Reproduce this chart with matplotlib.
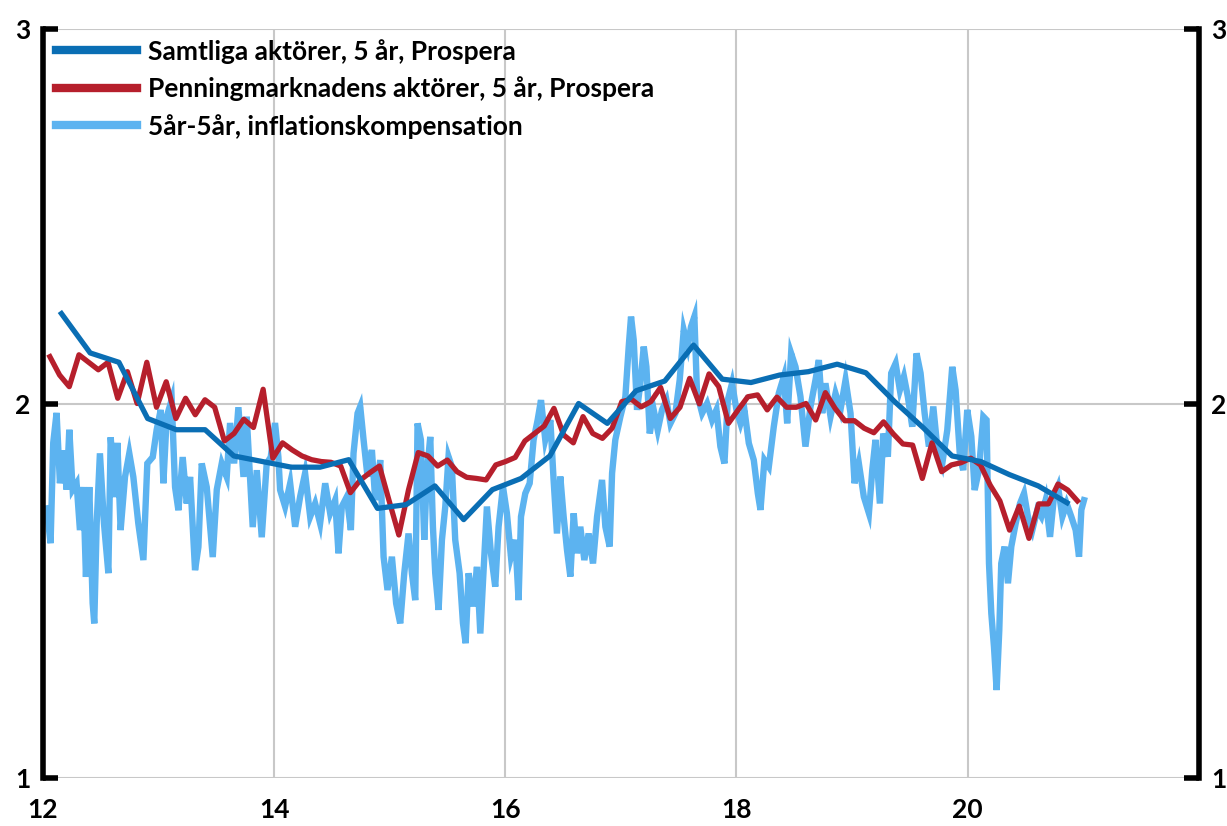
import numpy as np
import matplotlib
matplotlib.use("Agg")
import matplotlib.pyplot as plt

plt.rcParams['font.family'] = ['Lato', 'DejaVu Sans']
plt.rcParams['font.weight'] = 'bold'

# Samtliga aktörer, 5 år (kvartal)
samtliga_y = [2.24, 2.135, 2.11, 1.96, 1.93, 1.93, 1.86, 1.845, 1.83, 1.83,
              1.85, 1.72, 1.73, 1.78, 1.69, 1.77, 1.80, 1.86, 2.00, 1.947,
              2.034, 2.06, 2.156, 2.065, 2.056, 2.076, 2.085, 2.105, 2.082, 2.005,
              1.935, 1.86, 1.845, 1.81, 1.78, 1.735]
samtliga_x = np.linspace(12.16, 20.86, len(samtliga_y))

# Penningmarknadens aktörer, 5 år (månad)
penning_y = [2.125, 2.076, 2.045, 2.13, 2.11, 2.09, 2.11, 2.014, 2.085, 2.0,
             2.11, 1.99, 2.058, 1.96, 2.014, 1.97, 2.01, 1.99, 1.90, 1.92,
             1.958, 1.936, 2.038, 1.854, 1.895, 1.876, 1.86, 1.85, 1.845, 1.843,
             1.833, 1.762, 1.795, 1.815, 1.833, 1.74, 1.649, 1.77, 1.869, 1.86,
             1.833, 1.849, 1.818, 1.803, 1.80, 1.796, 1.836, 1.845, 1.856, 1.90,
             1.92, 1.94, 1.987, 1.916, 1.895, 1.965, 1.92, 1.907, 1.934, 2.005,
             2.011, 1.991, 2.005, 2.043, 1.96, 1.99, 2.067, 1.999, 2.079, 2.045,
             1.947, 1.983, 2.018, 2.023, 1.983, 2.017, 1.99, 1.99, 2.0, 1.956,
             2.029, 1.987, 1.954, 1.954, 1.934, 1.922, 1.951, 1.919, 1.892, 1.889,
             1.80, 1.895, 1.818, 1.836, 1.842, 1.854, 1.836, 1.782, 1.74, 1.662,
             1.726, 1.64, 1.732, 1.732, 1.785, 1.769, 1.74]
penning_x = np.linspace(12.06, 20.95, len(penning_y))

# 5år-5år, inflationskompensation (avläst dagsserie)
infl_x = [12.032, 12.066, 12.089, 12.118, 12.147, 12.176, 12.205, 12.228, 12.257, 12.291,
          12.320, 12.349, 12.372, 12.401, 12.430, 12.444, 12.465, 12.493, 12.528, 12.566,
          12.586, 12.623, 12.644, 12.672, 12.710, 12.747, 12.782, 12.825, 12.869, 12.903,
          12.950, 12.984, 13.019, 13.042, 13.071, 13.114, 13.143, 13.172, 13.209, 13.244,
          13.273, 13.316, 13.345, 13.374, 13.417, 13.469, 13.504, 13.547, 13.590, 13.619,
          13.654, 13.691, 13.735, 13.763, 13.815, 13.850, 13.893, 13.936, 13.971, 14.008,
          14.037,
          14.052, 14.095, 14.139, 14.182, 14.225, 14.268, 14.312, 14.355, 14.398, 14.442,
          14.485, 14.528, 14.557, 14.586, 14.629, 14.664, 14.687, 14.722, 14.745, 14.774,
          14.808, 14.846, 14.875, 14.918, 14.947, 14.981, 15.019, 15.056, 15.091, 15.126,
          15.163, 15.192, 15.221, 15.241, 15.270, 15.299, 15.322, 15.351, 15.374, 15.394,
          15.423, 15.452, 15.481, 15.509, 15.538, 15.567, 15.605, 15.634, 15.657, 15.683,
          15.720, 15.755, 15.784, 15.818, 15.841, 15.876, 15.913, 15.942, 15.980, 16.014,
          16.049, 16.087, 16.115, 16.136, 16.173, 16.211, 16.245, 16.280, 16.309, 16.346,
          16.390,
          16.418, 16.447, 16.476, 16.505, 16.534, 16.563, 16.592, 16.620, 16.649, 16.684,
          16.721, 16.759, 16.794, 16.837, 16.866, 16.903, 16.924, 16.952, 16.996, 17.039,
          17.068, 17.088, 17.111, 17.140, 17.169, 17.198, 17.221, 17.250, 17.284, 17.319,
          17.356, 17.394, 17.429, 17.472, 17.509, 17.544, 17.579, 17.607, 17.636, 17.659,
          17.703, 17.746, 17.789, 17.827, 17.861, 17.896, 17.925, 17.962, 18.000, 18.035,
          18.069, 18.107, 18.150, 18.185, 18.208, 18.242, 18.280, 18.323, 18.366, 18.410,
          18.439, 18.473, 18.511,
          18.554, 18.597, 18.641, 18.684, 18.713, 18.742, 18.770, 18.814, 18.857, 18.900,
          18.944, 18.987, 19.022, 19.059, 19.102, 19.146, 19.175, 19.203, 19.241, 19.270,
          19.310, 19.339, 19.377, 19.414, 19.449, 19.483, 19.521, 19.558, 19.593, 19.628,
          19.665, 19.703, 19.737, 19.781, 19.824, 19.867, 19.896, 19.934, 19.962, 19.997,
          20.032, 20.061, 20.098, 20.136, 20.164, 20.185, 20.205, 20.228, 20.251, 20.274,
          20.291, 20.320, 20.349, 20.378, 20.416, 20.453, 20.488, 20.522, 20.560, 20.603,
          20.638, 20.675, 20.713, 20.747, 20.782, 20.820, 20.857, 20.897, 20.935, 20.964,
          20.984, 21.007]
infl_y = [1.72, 1.627, 1.895, 1.975, 1.787, 1.875, 1.77, 1.93, 1.77, 1.787,
          1.662, 1.777, 1.537, 1.777, 1.467, 1.413, 1.68, 1.867, 1.68, 1.547,
          1.91, 1.75, 1.895, 1.662, 1.804, 1.867, 1.804, 1.68, 1.582, 1.84,
          1.857, 1.93, 1.983, 1.787, 1.965, 2.01, 1.777, 1.715, 1.857, 1.733,
          1.804, 1.555, 1.617, 1.84, 1.777, 1.59, 1.77, 1.84, 1.804, 1.948,
          1.84, 1.99, 1.804, 1.965, 1.67, 1.822, 1.643, 1.84, 1.857, 1.948,
          1.857,
          1.769, 1.725, 1.787, 1.671, 1.751, 1.814, 1.698, 1.733, 1.68, 1.787,
          1.707, 1.742, 1.60, 1.725, 1.751, 1.662, 1.867, 1.974, 1.992, 1.903,
          1.805, 1.876, 1.742, 1.849, 1.591, 1.502, 1.591, 1.466, 1.413, 1.547,
          1.653, 1.547, 1.475, 1.947, 1.903, 1.636, 1.814, 1.911, 1.671, 1.547,
          1.449, 1.636, 1.725, 1.858, 1.831, 1.636, 1.547, 1.413, 1.36, 1.547,
          1.458, 1.564, 1.386, 1.591, 1.725, 1.60, 1.511, 1.671, 1.778, 1.707,
          1.591, 1.636, 1.475, 1.698, 1.76, 1.787, 1.903, 1.956, 2.009, 1.903,
          1.956,
          1.796, 1.653, 1.805, 1.698, 1.609, 1.538, 1.707, 1.60, 1.671, 1.582,
          1.653, 1.573, 1.698, 1.796, 1.671, 1.618, 1.814, 1.903, 1.965, 2.018,
          2.152, 2.232, 2.170, 1.983, 2.054, 2.152, 2.098, 1.920, 1.983, 1.929,
          1.983, 2.009, 1.947, 1.974, 2.063, 2.196, 2.152, 2.205, 2.232, 2.027,
          1.974, 2.0, 1.956, 1.983, 1.885, 1.84, 2.009, 2.054, 1.983, 1.947,
          1.983, 1.894, 1.849, 1.76, 1.716, 1.849, 1.831, 1.938, 2.027, 2.072,
          1.947, 2.134, 2.098,
          2.018, 1.885, 1.992, 2.063, 2.116, 1.974, 2.054, 1.965, 2.027, 1.983,
          2.063, 1.974, 1.787, 1.840, 1.751, 1.707, 1.822, 1.903, 1.733, 1.920,
          1.858, 2.081, 2.107, 2.036, 2.072, 2.018, 1.938, 2.134, 2.081, 1.974,
          1.885, 1.992, 1.885, 1.840, 1.929, 2.098, 2.036, 1.858, 1.822, 1.983,
          1.912, 1.769, 1.822, 1.965, 1.956, 1.573, 1.440, 1.351, 1.235, 1.395,
          1.573, 1.618, 1.520, 1.618, 1.680, 1.733, 1.760, 1.698, 1.662, 1.716,
          1.698, 1.742, 1.644, 1.751, 1.778, 1.698, 1.733, 1.698, 1.662, 1.591,
          1.716, 1.742]

x_ticks = [12, 14, 16, 18, 20]
y_ticks = [1, 2, 3]

fig = plt.figure(figsize=(12.27, 8.26), dpi=100)
ax = fig.add_axes([0.035, 0.058, 0.942, 0.907])

grid_col = '#c8c8c8'
for yv in y_ticks:
    ax.axhline(yv, color=grid_col, lw=1.5, zorder=0)
for xv in [14, 16, 18, 20]:
    ax.axvline(xv, color=grid_col, lw=1.5, zorder=0)

ax.plot(infl_x, infl_y, color='#5cb3f0', lw=4.6, solid_joinstyle='miter',
        label='5år-5år, inflationskompensation', zorder=2)
ax.plot(samtliga_x, samtliga_y, color='#0a6eb4', lw=3.8,
        label='Samtliga aktörer, 5 år, Prospera', zorder=4)
ax.plot(penning_x, penning_y, color='#b61f2c', lw=3.8,
        label='Penningmarknadens aktörer, 5 år, Prospera', zorder=3)

ax.set_xlim(12, 22)
ax.set_ylim(1, 3)
ax.set_xticks(x_ticks)
ax.set_xticklabels([str(t) for t in x_ticks], fontsize=19, fontweight='bold')
ax.set_yticks(y_ticks)
ax.set_yticklabels([str(t) for t in y_ticks], fontsize=19, fontweight='bold')
ax.tick_params(axis='x', length=0, pad=14)
ax.tick_params(axis='y', direction='in', length=11, width=4, pad=9,
               left=True, right=True, labelleft=True, labelright=True)

for side in ['top', 'bottom']:
    ax.spines[side].set_visible(False)
for side in ['left', 'right']:
    ax.spines[side].set_linewidth(4)
    ax.spines[side].set_color('black')

handles, labels = ax.get_legend_handles_labels()
order = [1, 2, 0]
leg = ax.legend([handles[i] for i in order], [labels[i] for i in order],
                loc='upper left', bbox_to_anchor=(-0.002, 1.008), frameon=False,
                fontsize=19, handlelength=3.05, handletextpad=0.4,
                labelspacing=0.48, borderaxespad=0.2)
for t in leg.get_texts():
    t.set_fontweight('bold')
for h in leg.get_lines():
    h.set_linewidth(6)

fig.savefig('out.png', dpi=100)
